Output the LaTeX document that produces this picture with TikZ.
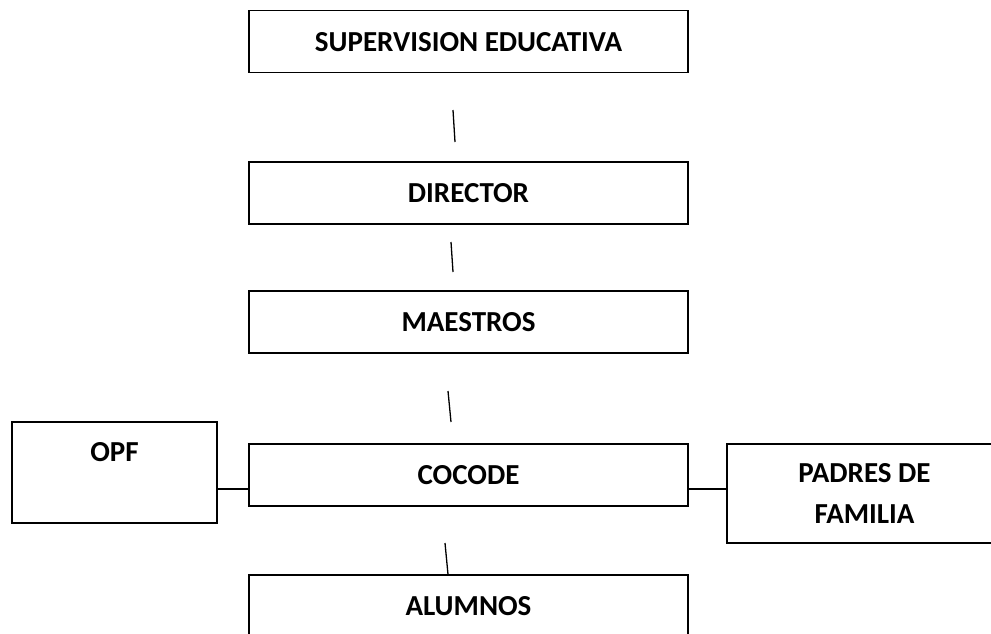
\documentclass[tikz,border=0pt]{standalone}
\usepackage{fontspec}
\setmainfont{Carlito}
\usetikzlibrary{calc}

\begin{document}
\begin{tikzpicture}[x=1pt, y=-1pt,
  org/.style={draw, line width=1.3pt, inner sep=0pt, align=center, font=\bfseries\fontsize{29}{41}\selectfont, minimum width=439pt, minimum height=62pt},
  tick/.style={line width=1.3pt}]
\useasboundingbox (0,0) rectangle (991,634);
\coordinate (S1a) at (453,110);
\coordinate (S1b) at (455,142);
\coordinate (S2a) at (451,242);
\coordinate (S2b) at (453,272);
\coordinate (S3a) at (448,391);
\coordinate (S3b) at (451,422);
\coordinate (S4a) at (445,543);
\coordinate (Lk) at (0,489);
\node at (468.5,41.7) [name=sup, org] {SUPERVISION EDUCATIVA};
\node at (468.5,193) [name=dir, org] {DIRECTOR};
\node at (468.5,322) [name=mae, org] {MAESTROS};
\node at (468.5,475) [name=coc, org] {COCODE};
\node at (468.5,606) [name=alu, org] {ALUMNOS};
\node at (114.5,472.5) [name=opf, org, minimum width=205pt, minimum height=101pt] {OPF\\\mbox{}};
\node at (864.5,493.5) [name=pad, org, minimum width=275pt, minimum height=99pt] {PADRES DE\\FAMILIA};
\draw [tick] (S1a) -- (S1b);
\draw [tick] (S2a) -- (S2b);
\draw [tick] (S3a) -- (S3b);
\draw [tick] (S4a) -- (alu.north -| 448,0);
\draw [tick] (opf.east |- Lk) -- (coc.west |- Lk);
\draw [tick] (coc.east |- Lk) -- (pad.west |- Lk);
\end{tikzpicture}
\end{document}
